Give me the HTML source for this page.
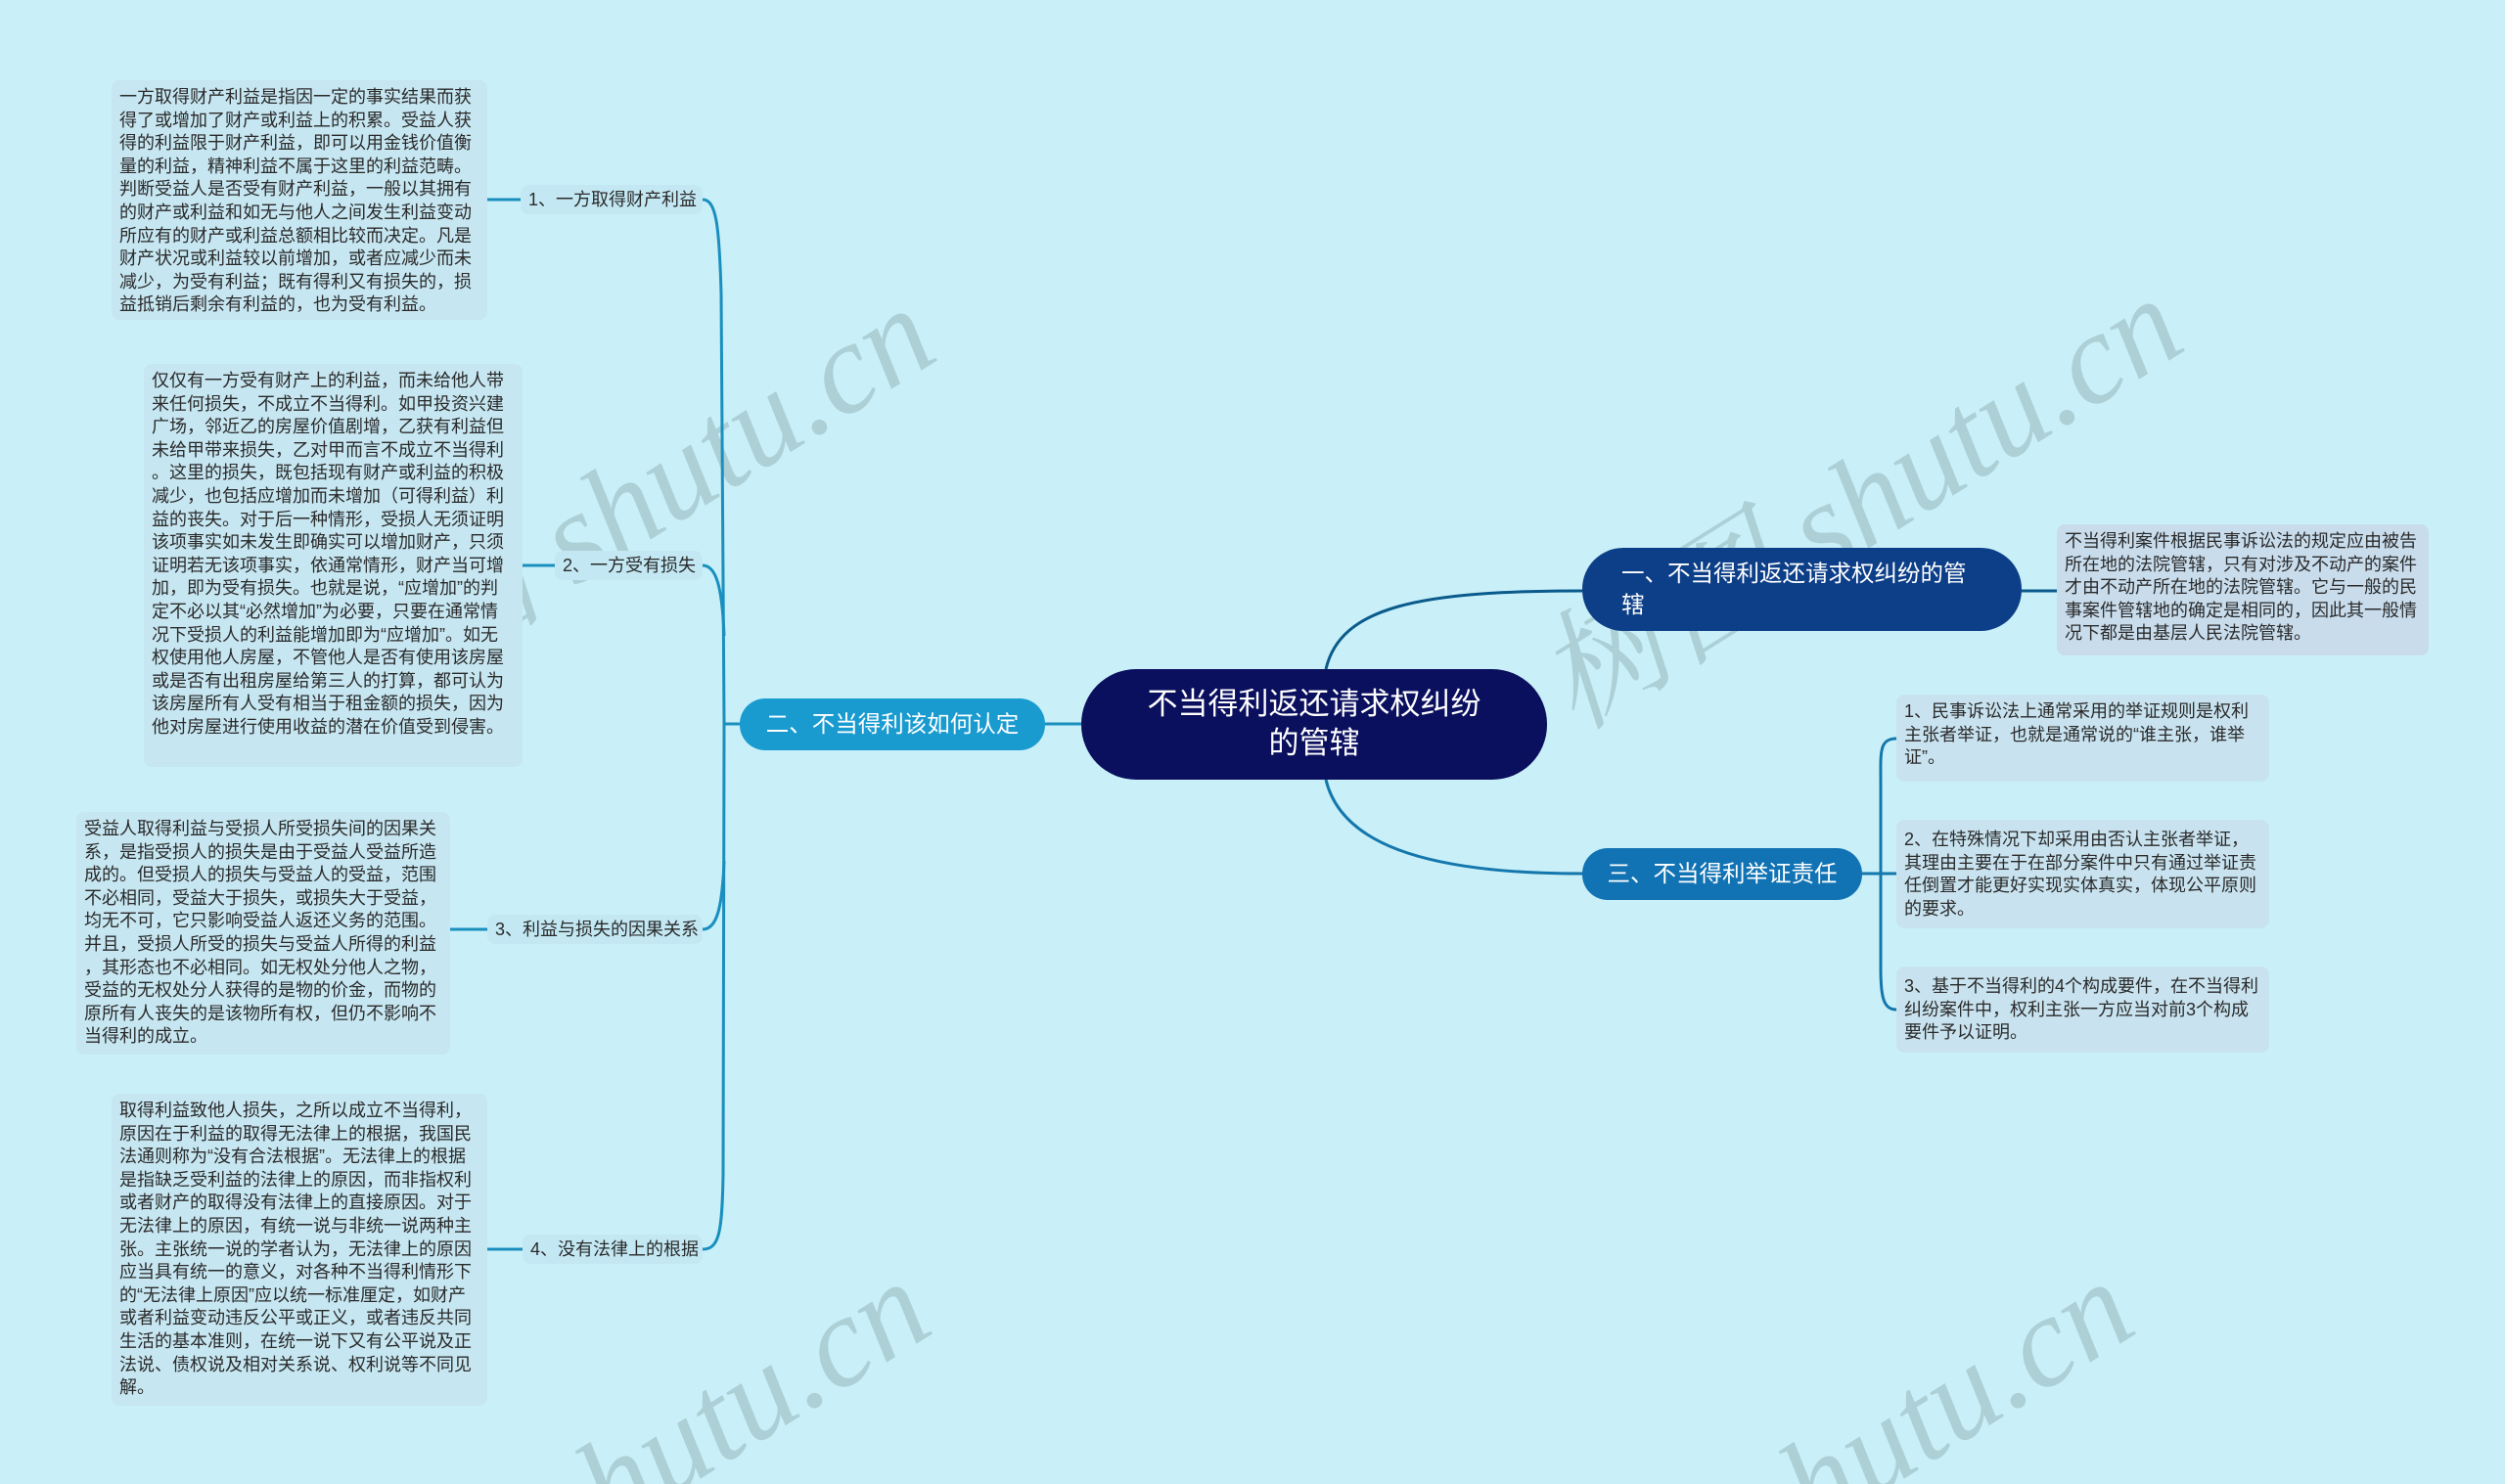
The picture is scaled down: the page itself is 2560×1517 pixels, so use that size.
<!DOCTYPE html>
<html><head><meta charset="utf-8"><style>
html,body{margin:0;padding:0;width:2560px;height:1517px;overflow:hidden}
body{background:#c9f0f8;position:relative;font-family:"Liberation Sans","Noto Sans CJK SC",sans-serif}
.b{position:absolute;box-sizing:border-box}
.txt{background:#c6e6f1;border-radius:8px;color:#2a2a2a;font-size:18px;line-height:23.6px;padding:6px 8px;line-break:anywhere}
.lab{background:#c3e8f3;border-radius:8px;color:#2a2a2a;font-size:18px;line-height:30px;padding:0 8px;white-space:nowrap;text-align:right}
.wm{position:absolute;font-family:"Liberation Serif","Noto Serif CJK SC",serif;font-style:italic;font-size:132px;color:#a9cbd2;white-space:nowrap;transform:rotate(-32deg);transform-origin:left bottom;opacity:.85}
#wrap{position:absolute;left:0;top:0;width:2560px;height:1517px;overflow:hidden}
</style></head><body><div id="wrap">
<div class="wm" style="left:355px;top:600px">树图 shutu.cn</div>
<div class="wm" style="left:1630px;top:590px">树图 shutu.cn</div>
<div class="wm" style="left:350px;top:1595px">树图 shutu.cn</div>
<div class="wm" style="left:1580px;top:1595px">树图 shutu.cn</div>

<svg class="b" style="left:0;top:0" width="2560" height="1517" fill="none">
<g stroke="#0a5a8c" stroke-width="3">
<path d="M1355 684 C1370 620 1450 604 1617 604"/>
<path d="M2066 604 L2102 604"/>
</g>
<g stroke="#1477ac" stroke-width="3">
<path d="M1355 797 C1370 860 1450 893 1617 893"/>
<path d="M1903 893 L1925 893"/>
<path d="M1938 755 C1920 755 1922 770 1922 800 L1922 990 C1922 1020 1925 1032 1938 1032"/>
<path d="M1922 893 L1938 893"/>
</g>
<g stroke="#1a8fbe" stroke-width="3">
<path d="M1105 740 L1068 740"/>
<path d="M756 740 L740 740"/>
<path d="M718 204 C732 204 735 230 737 300 L740 740 L739 1200 C738 1260 735 1277 718 1277"/>
<path d="M718 578 C732 578 738 600 740 650"/>
<path d="M718 950 C732 950 738 930 740 880"/>
<path d="M498 204 L532 204"/>
<path d="M534 578 L567 578"/>
<path d="M460 950 L498 950"/>
<path d="M498 1277 L534 1277"/>
</g>
</svg>

<div class="b" style="left:1105px;top:684px;width:476px;height:113px;background:#0a0f5e;border-radius:56px;color:#fff;font-size:31px;line-height:40px;text-align:center;padding-top:16px">不当得利返还请求权纠纷<br>的管辖</div>

<div class="b" style="left:1617px;top:560px;width:449px;height:85px;background:#0d3f88;border-radius:42px;color:#fff;font-size:23.5px;line-height:32px;padding:10px 0 0 40px">一、不当得利返还请求权纠纷的管<br>辖</div>
<div class="b txt" style="left:2102px;top:536px;width:380px;height:134px;background:#c8dcec">不当得利案件根据民事诉讼法的规定应由被告所在地的法院管辖，只有对涉及不动产的案件才由不动产所在地的法院管辖。它与一般的民事案件管辖地的确定是相同的，因此其一般情况下都是由基层人民法院管辖。</div>

<div class="b" style="left:1617px;top:867px;width:286px;height:53px;background:#1173b4;border-radius:26px;color:#fff;font-size:23.5px;line-height:53px;text-align:center">三、不当得利举证责任</div>
<div class="b txt" style="left:1938px;top:710px;width:381px;height:89px;background:#c8e3ef">1、民事诉讼法上通常采用的举证规则是权利主张者举证，也就是通常说的“谁主张，谁举证”。</div>
<div class="b txt" style="left:1938px;top:838px;width:381px;height:111px;background:#c8e3ef;padding-top:9px">2、在特殊情况下却采用由否认主张者举证，其理由主要在于在部分案件中只有通过举证责任倒置才能更好实现实体真实，体现公平原则的要求。</div>
<div class="b txt" style="left:1938px;top:988px;width:381px;height:88px;background:#c8e3ef;padding-top:9px">3、基于不当得利的4个构成要件，在不当得利纠纷案件中，权利主张一方应当对前3个构成要件予以证明。</div>

<div class="b" style="left:756px;top:714px;width:312px;height:53px;background:#1a9bd0;border-radius:26px;color:#fff;font-size:23.5px;line-height:53px;text-align:center">二、不当得利该如何认定</div>

<div class="b lab" style="left:532px;top:189px;width:186px">1、一方取得财产利益</div>
<div class="b lab" style="left:567px;top:563px;width:151px">2、一方受有损失</div>
<div class="b lab" style="left:498px;top:935px;width:220px">3、利益与损失的因果关系</div>
<div class="b lab" style="left:534px;top:1262px;width:184px">4、没有法律上的根据</div>

<div class="b txt" style="left:114px;top:82px;width:384px;height:245px">一方取得财产利益是指因一定的事实结果而获得了或增加了财产或利益上的积累。受益人获得的利益限于财产利益，即可以用金钱价值衡量的利益，精神利益不属于这里的利益范畴。判断受益人是否受有财产利益，一般以其拥有的财产或利益和如无与他人之间发生利益变动所应有的财产或利益总额相比较而决定。凡是财产状况或利益较以前增加，或者应减少而未减少，为受有利益；既有得利又有损失的，损益抵销后剩余有利益的，也为受有利益。</div>
<div class="b txt" style="left:147px;top:372px;width:387px;height:412px">仅仅有一方受有财产上的利益，而未给他人带来任何损失，不成立不当得利。如甲投资兴建广场，邻近乙的房屋价值剧增，乙获有利益但未给甲带来损失，乙对甲而言不成立不当得利。这里的损失，既包括现有财产或利益的积极减少，也包括应增加而未增加（可得利益）利益的丧失。对于后一种情形，受损人无须证明该项事实如未发生即确实可以增加财产，只须证明若无该项事实，依通常情形，财产当可增加，即为受有损失。也就是说，“应增加”的判定不必以其“必然增加”为必要，只要在通常情况下受损人的利益能增加即为“应增加”。如无权使用他人房屋，不管他人是否有使用该房屋或是否有出租房屋给第三人的打算，都可认为该房屋所有人受有相当于租金额的损失，因为他对房屋进行使用收益的潜在价值受到侵害。</div>
<div class="b txt" style="left:78px;top:830px;width:382px;height:248px">受益人取得利益与受损人所受损失间的因果关系，是指受损人的损失是由于受益人受益所造成的。但受损人的损失与受益人的受益，范围不必相同，受益大于损失，或损失大于受益，均无不可，它只影响受益人返还义务的范围。并且，受损人所受的损失与受益人所得的利益，其形态也不必相同。如无权处分他人之物，受益的无权处分人获得的是物的价金，而物的原所有人丧失的是该物所有权，但仍不影响不当得利的成立。</div>
<div class="b txt" style="left:114px;top:1118px;width:384px;height:319px">取得利益致他人损失，之所以成立不当得利，原因在于利益的取得无法律上的根据，我国民法通则称为“没有合法根据”。无法律上的根据是指缺乏受利益的法律上的原因，而非指权利或者财产的取得没有法律上的直接原因。对于无法律上的原因，有统一说与非统一说两种主张。主张统一说的学者认为，无法律上的原因应当具有统一的意义，对各种不当得利情形下的“无法律上原因”应以统一标准厘定，如财产或者利益变动违反公平或正义，或者违反共同生活的基本准则，在统一说下又有公平说及正法说、债权说及相对关系说、权利说等不同见解。</div>
</div></body></html>
